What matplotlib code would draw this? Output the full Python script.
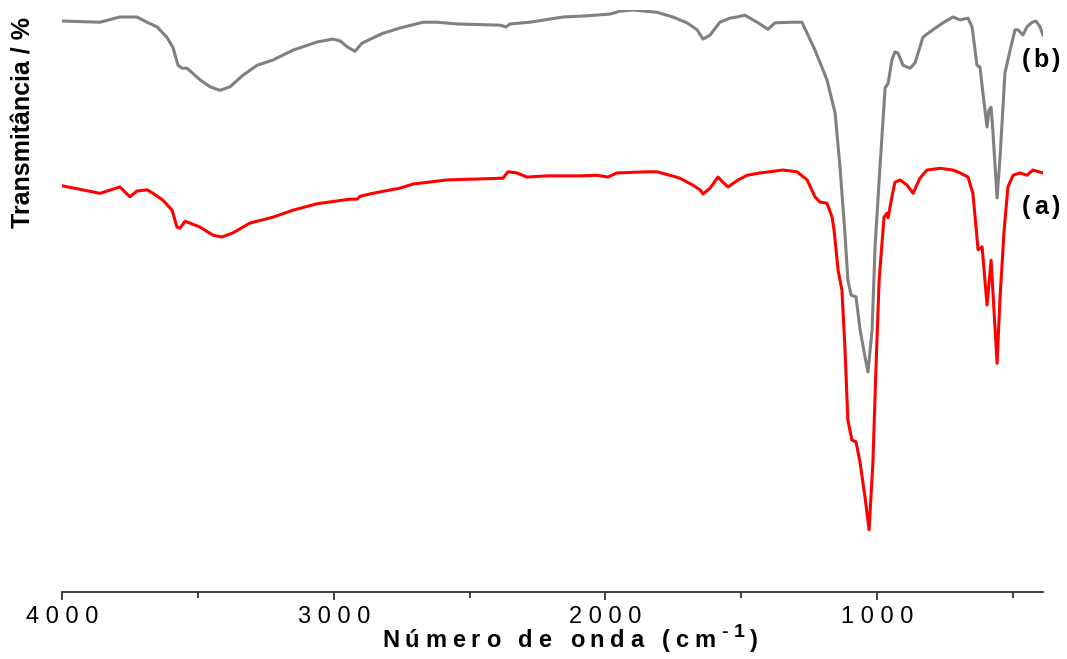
import matplotlib
matplotlib.use("Agg")
import matplotlib.pyplot as plt
from matplotlib.font_manager import FontProperties
from matplotlib.ticker import FixedLocator

# FTIR spectra: wavenumber (cm-1) and transmittance (%)
wavenumber_b = [3996, 3860, 3787, 3724, 3687, 3650, 3614, 3592, 3573, 3558, 3540,
                3492, 3455, 3419, 3382, 3334, 3282, 3224, 3150, 3062, 3003, 2977,
                2948, 2922, 2896, 2856, 2819, 2756, 2672, 2620, 2546, 2388, 2366,
                2351, 2278, 2156, 2068, 1983, 1947, 1899, 1810, 1752, 1700, 1663,
                1641, 1615, 1579, 1542, 1516, 1487, 1442, 1402, 1376, 1314, 1277,
                1229, 1185, 1155, 1137, 1119, 1108, 1096, 1078, 1063, 1045, 1034,
                1019, 1008, 990, 971, 960, 946, 935, 924, 905, 879, 861, 832, 813,
                795, 758, 721, 695, 666, 651, 633, 622, 611, 596, 589, 581, 574,
                559, 548, 530, 511, 493, 482, 464, 449, 430, 416, 401, 390]
transmittance_b = [98.1, 97.9, 98.8, 98.8, 97.9, 97.1, 95.3, 93.6, 90.5, 90.0, 90.0,
                   88.0, 86.8, 86.2, 86.8, 88.8, 90.5, 91.4, 93.1, 94.5, 95.0, 94.7,
                   93.6, 92.9, 94.3, 95.2, 96.0, 96.9, 97.9, 97.9, 97.6, 97.4, 97.1,
                   97.6, 97.9, 98.8, 99.0, 99.3, 99.8, 100.0, 99.6, 98.8, 97.8, 96.6,
                   95.0, 95.7, 97.9, 98.6, 98.8, 99.1, 97.9, 96.7, 97.8, 97.9, 97.9,
                   93.1, 88.0, 82.3, 73.0, 61.7, 53.6, 51.0, 50.7, 45.0, 40.4, 37.8,
                   45.0, 59.3, 73.0, 86.6, 87.4, 91.4, 92.8, 92.6, 90.5, 90.0, 90.9,
                   95.3, 96.0, 96.6, 97.8, 98.8, 98.3, 98.6, 97.1, 90.5, 90.2, 85.7,
                   79.9, 82.8, 83.3, 78.9, 67.7, 74.7, 89.2, 93.1, 96.6, 96.6, 95.7,
                   97.1, 97.9, 98.1, 97.1, 95.7]

wavenumber_a = [4000, 3860, 3787, 3750, 3724, 3687, 3665, 3628, 3595, 3577, 3566,
                3547, 3492, 3444, 3411, 3371, 3308, 3224, 3150, 3062, 2940, 2914,
                2903, 2856, 2756, 2708, 2583, 2377, 2359, 2326, 2289, 2215, 2094,
                2031, 1991, 1958, 1847, 1810, 1763, 1726, 1678, 1652, 1641, 1615,
                1586, 1568, 1549, 1512, 1479, 1431, 1347, 1295, 1258, 1229, 1211,
                1185, 1166, 1159, 1144, 1130, 1119, 1108, 1093, 1078, 1063, 1045,
                1030, 1016, 1004, 993, 975, 964, 960, 946, 935, 916, 890, 868, 843,
                817, 769, 721, 695, 666, 648, 636, 629, 614, 596, 581, 559, 548,
                533, 519, 500, 475, 449, 427, 390]
transmittance_a = [69.8, 68.5, 69.6, 67.9, 68.9, 69.1, 68.5, 67.3, 65.6, 62.7, 62.5,
                   63.7, 62.7, 61.3, 61.0, 61.7, 63.4, 64.4, 65.6, 66.7, 67.5, 67.5,
                   68.0, 68.5, 69.4, 70.1, 70.8, 71.1, 72.2, 72.0, 71.3, 71.5, 71.5,
                   71.6, 71.3, 72.0, 72.2, 72.2, 71.6, 71.1, 69.9, 69.1, 68.4, 69.4,
                   71.3, 70.4, 69.6, 70.8, 71.6, 72.0, 72.5, 72.2, 70.8, 67.9, 67.0,
                   66.8, 64.4, 62.2, 55.3, 51.9, 42.1, 29.5, 26.1, 25.8, 22.2, 16.3,
                   10.7, 22.2, 39.3, 53.6, 64.4, 65.1, 64.3, 67.9, 70.4, 70.8, 69.9,
                   68.5, 71.1, 72.5, 72.8, 72.5, 72.0, 71.3, 68.5, 62.5, 58.8, 59.3,
                   49.3, 57.0, 39.3, 50.7, 62.2, 69.6, 71.6, 72.0, 71.6, 72.5, 72.0]

xtick_values = [4000, 3000, 2000, 1000]
xtick_labels = ["4 0 0 0", "3 0 0 0", "2 0 0 0", "1 0 0 0"]
xminor_values = [3500, 2500, 1500, 500]

FAMILY = ["Liberation Sans", "DejaVu Sans"]
plt.rcParams["font.family"] = FAMILY

W, H = 1067, 659
fig = plt.figure(figsize=(W / 100, H / 100), dpi=100)
ax = fig.add_axes([62 / W, (H - 592) / H, (1043 - 62) / W, (592 - 10) / H])

ax.plot(wavenumber_b, transmittance_b, color="#808080", lw=2.2, solid_joinstyle="round")
ax.plot(wavenumber_a, transmittance_a, color="#ff0000", lw=2.2, solid_joinstyle="round")

ax.set_xlim(4000, 390)
ax.set_ylim(0, 100)
for side in ("left", "right", "top"):
    ax.spines[side].set_visible(False)
ax.spines["bottom"].set_color("#333333")
ax.spines["bottom"].set_linewidth(1.3)
ax.set_yticks([])
ax.xaxis.set_major_locator(FixedLocator(xtick_values))
ax.xaxis.set_minor_locator(FixedLocator(xminor_values))
ax.set_xticklabels(xtick_labels, fontsize=17)
ax.tick_params(axis="x", which="major", direction="out", length=6, width=1.3,
               color="#333333", pad=4)
ax.tick_params(axis="x", which="minor", direction="out", length=4, width=1.3,
               color="#333333")

renderer = fig.canvas.get_renderer()


def tracked_text(x_px, y_px, pieces, width_px):
    """Draw text centred at x_px (baseline y_px, pixels from top), letter-spaced
    so that it spans width_px. pieces: list of (string, size_pt, weight, raise_px)."""
    items = []
    for txt, size, weight, rise in pieces:
        fp = FontProperties(family=FAMILY, size=size, weight=weight)
        for ch in txt:
            if ch == " ":
                items.append((None, size * 100 / 72 * 0.278, fp, rise))
            else:
                w, _, _ = renderer.get_text_width_height_descent(ch, fp, ismath=False)
                items.append((ch, w, fp, rise))
    glyphs = sum(it[1] for it in items)
    tracking = (width_px - glyphs) / (len(items) - 1)
    x = x_px - width_px / 2
    for ch, w, fp, rise in items:
        if ch is not None:
            fig.text(x / W, (H - y_px + rise) / H, ch, fontproperties=fp,
                     ha="left", va="baseline")
        x += w + tracking


# axis title along x
tracked_text(570, 647, [("Número de onda (cm", 17, "bold", 0),
                        ("-1", 14, "bold", 10),
                        (")", 17, "bold", 0)], width_px=376)

# axis title along y
fig.text(24 / W, (H - 122) / H, "Transmitância / %", rotation=90, fontsize=18,
         fontweight="bold", ha="center", va="center")

# curve labels
tracked_text(1041, 67, [("(b)", 18, "bold", 0)], width_px=38)
tracked_text(1041, 214, [("(a)", 18, "bold", 0)], width_px=38)

fig.savefig("out.png", dpi=100)
